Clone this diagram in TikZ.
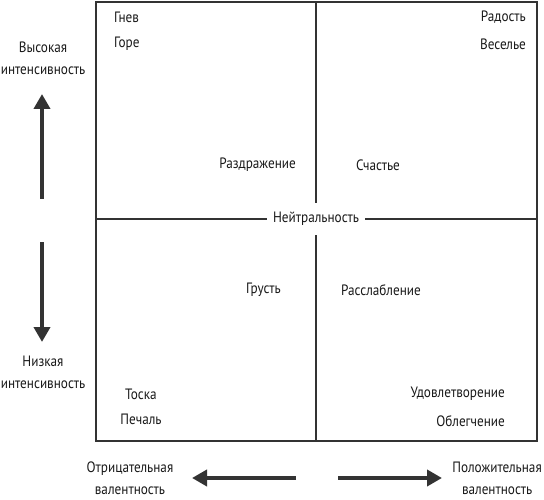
\documentclass[tikz,border=0pt]{standalone}
\usepackage{fontspec}
\setmainfont{PT Sans}[FakeStretch=0.88]
\usetikzlibrary{arrows.meta, positioning, calc}

\begin{document}
\begin{tikzpicture}[x=1pt, y=-1pt,
    lbl/.style={inner sep=1pt, font=\fontsize{15}{22}\selectfont, text=black!90},
    axis/.style={lbl, align=center},
    frame/.style={draw=black!80, line width=1.6pt},
    arrow/.style={line width=4.5pt, draw=black!80, -{Triangle[length=15pt, width=16pt]}}]
    \useasboundingbox (0,0) rectangle (544,500);
    % quadrant frame
    \draw [frame] (96,2) rectangle (537,441);
    \coordinate (top) at (316,2);
    \coordinate (bottom) at (316,441);
    \coordinate (left) at (96,219);
    \coordinate (right) at (537,219);
    \draw [frame] (left) -- (right);
    \draw [frame] (top) -- (bottom);
    \node [lbl, fill=white, inner xsep=6pt, inner ysep=9pt] (neutral) at (316,219) {Нейтральность};
    % upper left
    \node [lbl, anchor=west] (anger) at (113,17) {Гнев};
    \node [lbl, anchor=west] (grief) at (113,44) {Горе};
    \node [lbl, anchor=east] (irritation) at (297,165) {Раздражение};
    % upper right
    \node [lbl, anchor=east] (joy) at (527,17) {Радость};
    \node [lbl, anchor=east] (fun) at (527,44) {Веселье};
    \node [lbl, anchor=west] (happiness) at (355,165) {Счастье};
    % lower left
    \node [lbl, anchor=east] (sadness) at (282,290) {Грусть};
    \node [lbl] (longing) at (141,394) {Тоска};
    \node [lbl] (sorrow) at (141,419) {Печаль};
    % lower right
    \node [lbl, anchor=west] (relaxation) at (340,290) {Расслабление};
    \node [lbl, anchor=east] (satisfaction) at (506,394) {Удовлетворение};
    \node [lbl, anchor=east] (relief) at (506,421) {Облегчение};
    % intensity axis
    \node [axis] (high) at (43,58) {Высокая\\интенсивность};
    \node [axis] (low) at (43,372) {Низкая\\интенсивность};
    \coordinate (upstart) at (42,199);
    \coordinate (uptip) at (42,94);
    \coordinate (downstart) at (42,242);
    \coordinate (downtip) at (42,342);
    \draw [arrow] (upstart) -- (uptip);
    \draw [arrow] (downstart) -- (downtip);
    % valence axis
    \node [axis] (negative) at (130,478) {Отрицательная\\валентность};
    \node [axis, anchor=east] (positive) at (543,478) {Положительная\\валентность};
    \coordinate (leftstart) at (296,478);
    \coordinate (lefttip) at (192,478);
    \coordinate (rightstart) at (338,478);
    \coordinate (righttip) at (442,478);
    \draw [arrow] (leftstart) -- (lefttip);
    \draw [arrow] (rightstart) -- (righttip);
\end{tikzpicture}
\end{document}
